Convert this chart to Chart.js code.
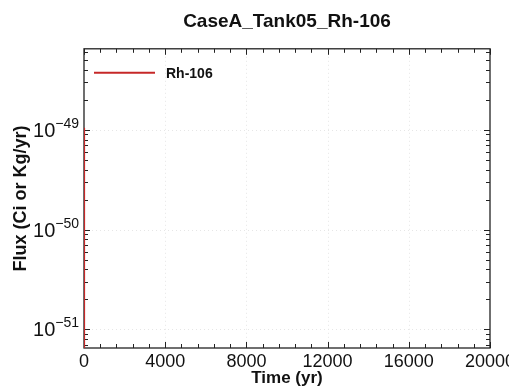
<!DOCTYPE html>
<html>
<head>
<meta charset="utf-8">
<script src="https://cdn.jsdelivr.net/npm/chart.js@4.4.0/dist/chart.umd.min.js"></script>
<style>
  html, body { margin: 0; padding: 0; background: #fff; }
</style>
</head>
<body>
<canvas id="flux" width="509" height="387"></canvas>
<script>
// Rh-106 flux for CaseA / Tank05 - drops off right after t=0
const timeYr = [0, 1, 10, 100, 1000, 20000];
const fluxRh106 = [1.05e-49, 1e-60, 1e-60, 1e-60, 1e-60, 1e-60];

const xTickValues = [0, 4000, 8000, 12000, 16000, 20000];
const xTickLabels = ['0', '4000', '8000', '12000', '16000', '20000'];
const xMinorStep = 800;
const yDecades = [-51, -50, -49];
const yMin = 6.5e-52;
const yMax = 6.5e-49;

Chart.defaults.font.family = "'Liberation Sans', Arial, sans-serif";
Chart.defaults.color = '#111';

const points = timeYr.map((t, i) => ({ x: t, y: fluxRh106[i] }));

// box, inward ticks, faint grid and the 10^n labels (MATLAB look)
const frame = {
    id: 'frame',
    beforeDatasetsDraw(chart) {
        const { ctx, chartArea: a, scales: { x, y } } = chart;
        ctx.save();

        ctx.strokeStyle = '#e6e6e6';
        ctx.lineWidth = 1;
        ctx.setLineDash([1, 3]);
        xTickValues.slice(1, -1).forEach(v => {
            const px = Math.round(x.getPixelForValue(v)) + 0.5;
            ctx.beginPath(); ctx.moveTo(px, a.top); ctx.lineTo(px, a.bottom); ctx.stroke();
        });
        yDecades.forEach(e => {
            const py = Math.round(y.getPixelForValue(Math.pow(10, e))) + 0.5;
            ctx.beginPath(); ctx.moveTo(a.left, py); ctx.lineTo(a.right, py); ctx.stroke();
        });
        ctx.setLineDash([]);

        ctx.strokeStyle = '#222';
        ctx.lineWidth = 1.3;
        ctx.strokeRect(a.left, a.top, a.right - a.left, a.bottom - a.top);

        ctx.lineWidth = 1;
        ctx.beginPath();
        x.ticks.forEach(t => {
            const px = Math.round(x.getPixelForValue(t.value)) + 0.5;
            const len = xTickValues.includes(t.value) ? 6 : 4;
            ctx.moveTo(px, a.bottom); ctx.lineTo(px, a.bottom - len);
            ctx.moveTo(px, a.top); ctx.lineTo(px, a.top + len);
        });
        yDecades.concat([-52]).forEach(e => {
            for (let k = 1; k <= 9; k++) {
                const v = k * Math.pow(10, e);
                if (v < yMin || v > yMax) continue;
                const py = Math.round(y.getPixelForValue(v)) + 0.5;
                const len = k === 1 ? 6 : 4;
                ctx.moveTo(a.left, py); ctx.lineTo(a.left + len, py);
                ctx.moveTo(a.right, py); ctx.lineTo(a.right - len, py);
            }
        });
        ctx.stroke();

        // y labels as 10 with a raised exponent
        ctx.fillStyle = '#111';
        ctx.textBaseline = 'alphabetic';
        ctx.textAlign = 'left';
        yDecades.forEach(e => {
            const py = y.getPixelForValue(Math.pow(10, e));
            const sup = '\u2212' + String(-e);
            ctx.font = "14px 'Liberation Sans', Arial, sans-serif";
            const supW = ctx.measureText(sup).width;
            const supX = a.left - 5 - supW;
            ctx.fillText(sup, supX, py - 2);
            ctx.font = "20px 'Liberation Sans', Arial, sans-serif";
            const baseW = ctx.measureText('10').width;
            ctx.fillText('10', supX - baseW, py + 7);
        });
        ctx.restore();
    },
    afterDraw(chart) {
        // legend sits inside the plot, top left
        const { ctx, chartArea: a } = chart;
        const ds = chart.data.datasets[0];
        ctx.save();
        ctx.strokeStyle = ds.borderColor;
        ctx.lineWidth = 2;
        ctx.beginPath();
        ctx.moveTo(a.left + 10, a.top + 24);
        ctx.lineTo(a.left + 71, a.top + 24);
        ctx.stroke();
        ctx.fillStyle = '#111';
        ctx.font = "bold 14px 'Liberation Sans', Arial, sans-serif";
        ctx.textBaseline = 'middle';
        ctx.fillText(ds.label, a.left + 82, a.top + 25);
        ctx.restore();
    }
};

const ctx = document.getElementById('flux').getContext('2d');
new Chart(ctx, {
    type: 'line',
    data: {
        datasets: [{
            label: 'Rh-106',
            data: points,
            borderColor: '#c62828',
            borderWidth: 2,
            pointRadius: 0,
            tension: 0,
            fill: false
        }]
    },
    options: {
        responsive: false,
        animation: false,
        layout: { padding: { left: 0, right: 19, top: 0, bottom: 0 } },
        plugins: {
            legend: { display: false },
            tooltip: { enabled: false },
            title: {
                display: true,
                text: 'CaseA_Tank05_Rh-106',
                fullSize: false,
                color: '#111',
                font: { size: 19, weight: 'bold' },
                padding: { top: 10, bottom: 16 }
            }
        },
        scales: {
            x: {
                type: 'linear',
                min: 0,
                max: 20000,
                grid: { display: false, drawTicks: false },
                border: { display: false },
                ticks: {
                    stepSize: xMinorStep,
                    autoSkip: false,
                    maxRotation: 0,
                    padding: 3,
                    font: { size: 18 },
                    callback: v => {
                        const i = xTickValues.indexOf(v);
                        return i >= 0 ? xTickLabels[i] : '';
                    }
                },
                title: {
                    display: true,
                    text: 'Time (yr)',
                    font: { size: 17, weight: 'bold' },
                    padding: { top: 0, bottom: -2 }
                },
                afterFit: s => { s.height = 39; s.paddingLeft = 0; s.paddingRight = 0; }
            },
            y: {
                type: 'logarithmic',
                min: yMin,
                max: yMax,
                grid: { display: false, drawTicks: false },
                border: { display: false },
                ticks: { display: false },
                title: {
                    display: true,
                    text: 'Flux (Ci or Kg/yr)',
                    font: { size: 18, weight: 'bold' },
                    padding: { top: 10, bottom: 0 }
                },
                afterFit: s => { s.width = 84; s.paddingTop = 0; s.paddingBottom = 0; }
            }
        }
    },
    plugins: [frame]
});
</script>
</body>
</html>
